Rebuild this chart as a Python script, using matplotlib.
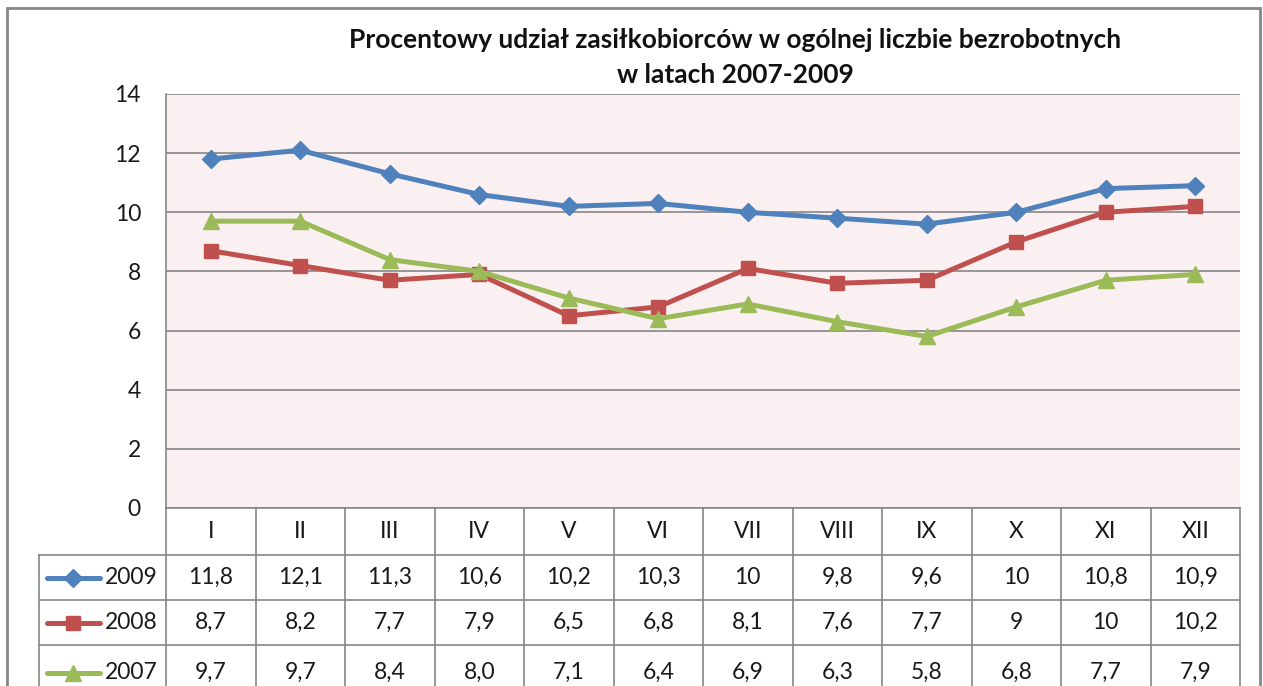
import matplotlib.pyplot as plt
import matplotlib.transforms as mtransforms
from matplotlib.lines import Line2D
from matplotlib.patches import Rectangle

plt.rcParams['font.family'] = ['Lato', 'DejaVu Sans']

months = ['I', 'II', 'III', 'IV', 'V', 'VI', 'VII', 'VIII', 'IX', 'X', 'XI', 'XII']
y2009 = [11.8, 12.1, 11.3, 10.6, 10.2, 10.3, 10, 9.8, 9.6, 10, 10.8, 10.9]
y2008 = [8.7, 8.2, 7.7, 7.9, 6.5, 6.8, 8.1, 7.6, 7.7, 9, 10, 10.2]
y2007 = [9.7, 9.7, 8.4, 8.0, 7.1, 6.4, 6.9, 6.3, 5.8, 6.8, 7.7, 7.9]
labels2009 = ['11,8', '12,1', '11,3', '10,6', '10,2', '10,3', '10', '9,8', '9,6', '10', '10,8', '10,9']
labels2008 = ['8,7', '8,2', '7,7', '7,9', '6,5', '6,8', '8,1', '7,6', '7,7', '9', '10', '10,2']
labels2007 = ['9,7', '9,7', '8,4', '8,0', '7,1', '6,4', '6,9', '6,3', '5,8', '6,8', '7,7', '7,9']
series_names = ['2009', '2008', '2007']

W, H = 1263, 686
fig = plt.figure(figsize=(W / 100, H / 100), dpi=100)

def fx(px):
  return px / W

def fy(py):
  return (H - py) / H

# plot area in pixels
L, R, T, B = 166, 1240, 94, 508
ax = fig.add_axes([fx(L), fy(B), fx(R - L), (B - T) / H])
ax.set_facecolor('#faf0f1')

grid_c = '#868686'
txt_c = '#1a1a1a'
fs = 16.5
x = list(range(len(months)))
series = [
  (y2009, '#4f81bd', 'D', 9.5),
  (y2008, '#c0504d', 's', 10.5),
  (y2007, '#9bbb59', '^', 11.5),
]
for vals, col, mk, ms in series:
  ax.plot(x, vals, color=col, lw=3.6, marker=mk, markersize=ms,
          markeredgecolor=col, markerfacecolor=col, zorder=3)

ax.set_xlim(-0.5, 11.5)
ax.set_ylim(0, 14)
ax.set_yticks(range(0, 15, 2))
ax.yaxis.grid(True, color=grid_c, lw=1.2)
ax.set_axisbelow(True)
ax.set_xticks([])
ax.tick_params(axis='y', length=0, pad=18, labelsize=fs, labelcolor=txt_c)
for s in ['top', 'right', 'bottom']:
  ax.spines[s].set_visible(False)
ax.spines['left'].set_color(grid_c)
ax.spines['left'].set_linewidth(1.2)

fig.text(fx(735), fy(40), 'Procentowy udział zasiłkobiorców w ogólnej liczbie bezrobotnych',
         ha='center', va='center', fontsize=19, fontweight='bold', color='#111111')
fig.text(fx(735), fy(75), 'w latach 2007-2009',
         ha='center', va='center', fontsize=19, fontweight='bold', color='#111111')

# data table below the plot
trans = mtransforms.blended_transform_factory(ax.transData, fig.transFigure)
row_edges = [508, 555, 600, 645, 700]
tab_left = 39
lw_t = 1.2

# horizontal lines
fig.add_artist(Line2D([fx(L), fx(R)], [fy(508)] * 2, color=grid_c, lw=lw_t))
for py in row_edges[1:4]:
  fig.add_artist(Line2D([fx(tab_left), fx(R)], [fy(py)] * 2, color=grid_c, lw=lw_t))
# vertical lines
for k in range(len(months) + 1):
  xd = k - 0.5
  fig.add_artist(Line2D([xd, xd], [fy(508), fy(700)], color=grid_c, lw=lw_t,
                        transform=trans))
fig.add_artist(Line2D([fx(tab_left)] * 2, [fy(555), fy(700)], color=grid_c, lw=lw_t))

def mid(i):
  return fy((row_edges[i] + row_edges[i + 1]) / 2)

for i, m in enumerate(months):
  fig.text(i, mid(0), m, transform=trans, ha='center', va='center',
           fontsize=fs, color=txt_c)
for r, labs in enumerate([labels2009, labels2008, labels2007]):
  for i, t in enumerate(labs):
    fig.text(i, mid(r + 1), t, transform=trans, ha='center', va='center',
             fontsize=fs, color=txt_c)

# legend keys inside table
for r, (vals, col, mk, ms) in enumerate(series):
  yy = mid(r + 1)
  fig.add_artist(Line2D([fx(47), fx(100)], [yy, yy], color=col, lw=3.6,
                        solid_capstyle='round'))
  fig.add_artist(Line2D([fx(73)], [yy], color=col, marker=mk, markersize=ms,
                        markeredgecolor=col, markerfacecolor=col, lw=0))
  fig.text(fx(158), yy, series_names[r], ha='right', va='center',
           fontsize=fs, color=txt_c)

# outer chart border
fig.add_artist(Rectangle((fx(7), fy(720)), fx(1260 - 7), (720 - 8) / H,
                         fill=False, edgecolor=grid_c, lw=2, transform=fig.transFigure))

fig.savefig('out.png', dpi=100)
